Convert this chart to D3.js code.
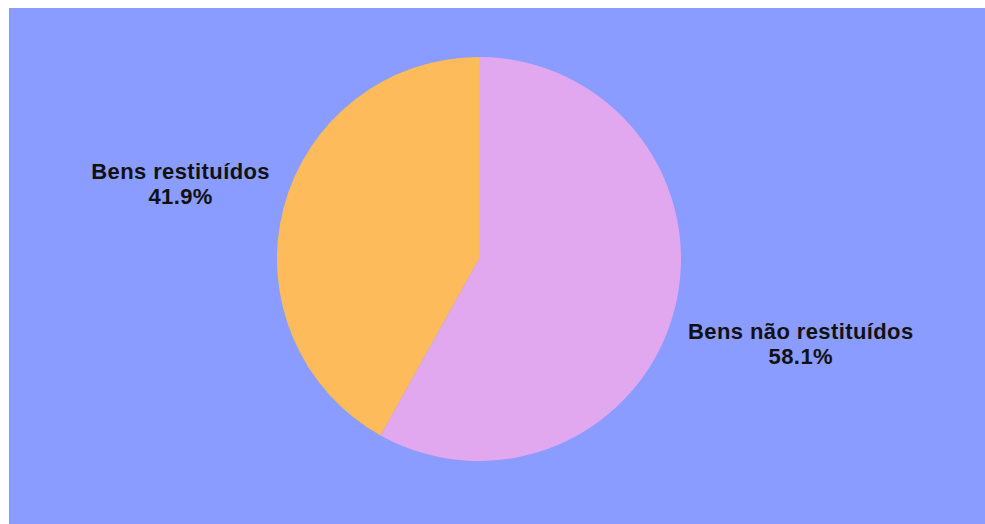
<!DOCTYPE html>
<html>
<head>
<meta charset="utf-8">
<script src="https://cdn.jsdelivr.net/npm/d3@7"></script>
<style>
  body { margin: 0; background: #ffffff; }
  #chart { position: absolute; left: 0; top: 0; }
  .label { font-family: "Liberation Sans", Arial, sans-serif; font-weight: bold; font-size: 22px; letter-spacing: 0.4px; fill: #111111; }
</style>
</head>
<body>
<div id="chart"></div>
<script>
var categories = ["Bens não restituídos", "Bens restituídos"];
var values = [58.1, 41.9];
var colors = ["#e1a8f0", "#febb5c"];

var width = 985, height = 524;
var cx = 479, cy = 259, radius = 202;

var svg = d3.select("#chart")
            .append("svg")
            .attr("width", width)
            .attr("height", height);

svg.append("rect")
   .attr("x", 9)
   .attr("y", 8)
   .attr("width", width - 9)
   .attr("height", height - 8)
   .attr("fill", "#8a9cff");

var data = categories.map((c, i) => ({ name: c, value: values[i], color: colors[i] }));

var pie = d3.pie()
            .sort(null)
            .value(d => d.value);

var arc = d3.arc().innerRadius(0).outerRadius(radius);
var labelArc = d3.arc().innerRadius(317).outerRadius(317);

var g = svg.append("g")
           .attr("transform", "translate(" + cx + "," + cy + ")");

var slices = pie(data);

g.selectAll("path")
   .data(slices)
 .enter().append("path")
   .attr("d", arc)
   .attr("fill", d => d.data.color);

// labels sit just outside the pie edge, at the height of each slice's mid angle
g.selectAll("text.label")
   .data(slices)
 .enter().append("text")
   .attr("class", "label")
   .attr("text-anchor", "middle")
   .attr("transform", d => "translate(0," + labelArc.centroid(d)[1] + ")")
   .each(function(d) {
     var t = d3.select(this);
     var side = labelArc.centroid(d)[0] < 0 ? -1 : 1;
     var l1 = t.append("tspan").attr("y", 0).text(d.data.name);
     var l2 = t.append("tspan").attr("y", 25).text(d3.format(".1f")(d.data.value) + "%");
     var w = Math.max(l1.node().getComputedTextLength(), l2.node().getComputedTextLength());
     var mid = side * (radius + 7) + side * w / 2;
     l1.attr("x", mid);
     l2.attr("x", mid);
   });
</script>
</body>
</html>
